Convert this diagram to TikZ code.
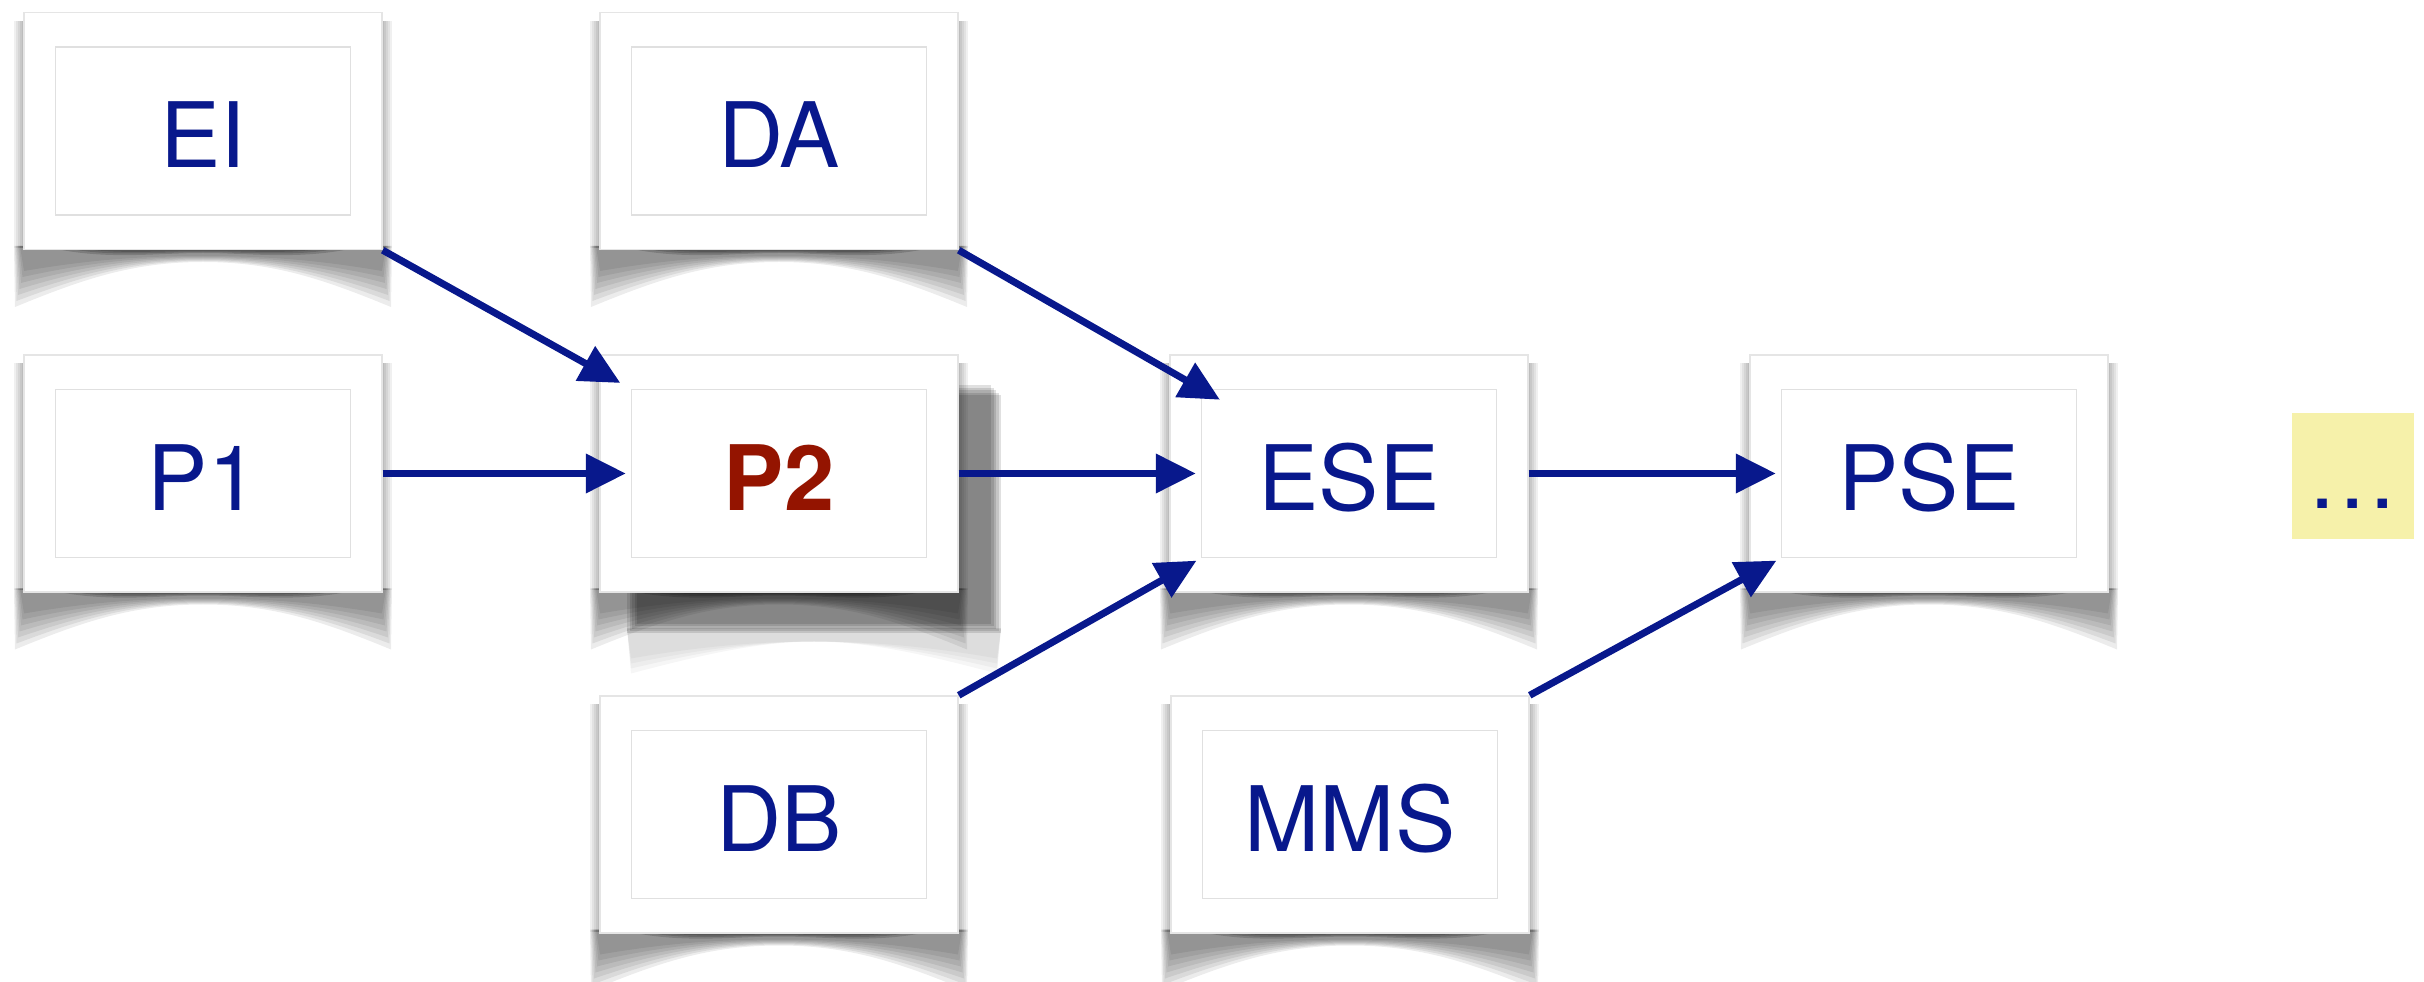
\documentclass[tikz,border=0pt]{standalone}
\usepackage{fontspec}
\setmainfont{TeX Gyre Heros}
\usetikzlibrary{arrows.meta}

\definecolor{ink}{RGB}{8,24,140}
\definecolor{hot}{RGB}{148,20,0}
\definecolor{note}{RGB}{246,241,170}

\tikzset{
  card/.style={draw=black!10, fill=white, minimum width=3.58cm,
    minimum height=2.37cm, inner sep=0pt},
  face/.style={draw=black!12, fill=white, minimum width=2.95cm,
    minimum height=1.68cm, inner sep=0pt, text=ink,
    font=\fontsize{25.7}{30}\selectfont, text height=0.74cm, text depth=0cm},
  flow/.style={draw=ink, line width=2pt, shorten >=0.5mm,
    -{Triangle[length=4mm,width=3.8mm]}},
  curl/.pic={
    \foreach \k in {1,...,5}
      \fill[black,opacity=.06] (-1.79-0.02*\k,-1.17) rectangle (1.79+0.02*\k,1.1);
    \foreach \k in {0,...,6}
      \fill[black,opacity=.075] (-1.89+0.01*\k,-1.15) -- (1.89-0.01*\k,-1.15)
        -- (1.88-0.015*\k,-1.76+0.06*\k)
        .. controls (1.2,-1.48+0.03*\k) and (0.7,-1.31+0.01*\k) .. (0,-1.31+0.01*\k)
        .. controls (-0.7,-1.31+0.01*\k) and (-1.2,-1.48+0.03*\k)
        .. (-1.88+0.015*\k,-1.76+0.06*\k) -- cycle;
    \foreach \k in {0,1,2}
      \fill[black,opacity=.16] (-1.6+0.15*\k,-1.15) -- (1.6-0.15*\k,-1.15)
        .. controls (1.0,-1.3+0.03*\k) and (0.5,-1.22+0.01*\k) .. (0,-1.22+0.01*\k)
        .. controls (-0.5,-1.22+0.01*\k) and (-1.0,-1.3+0.03*\k) .. (-1.6+0.15*\k,-1.15) -- cycle;
  },
  lift/.pic={
    \foreach \k in {0,...,4}
      \fill[black,opacity=.12] (-1.52+0.025*\k,-1.6+0.025*\k) rectangle (2.22-0.025*\k,0.78+0.025*\k);
    \foreach \k in {0,...,3}
      \fill[black,opacity=.035] (-1.52,-1.55) -- (2.22,-1.55) -- (2.18,-2.0+0.05*\k)
        .. controls (1.5,-1.82+0.03*\k) and (0.9,-1.68) .. (0.35,-1.68)
        .. controls (-0.2,-1.68) and (-0.8,-1.82+0.03*\k) .. (-1.48,-2.0+0.05*\k) -- cycle;
  }
}

\begin{document}
\begin{tikzpicture}
  \useasboundingbox (0,0) rectangle (24.24,-9.82);

  \pic at (7.79,-4.735) {lift};
  \pic at (2.03,-1.31) {curl};
  \pic at (7.79,-1.31) {curl};
  \pic at (2.03,-4.735) {curl};
  \pic at (7.79,-4.735) {curl};
  \pic at (13.49,-4.735) {curl};
  \pic at (19.29,-4.735) {curl};
  \pic at (7.79,-8.145) {curl};
  \pic at (13.50,-8.145) {curl};

  \node[card] (ei) at (2.03,-1.31) {};
  \node[card] (da) at (7.79,-1.31) {};
  \node[card] (p1) at (2.03,-4.735) {};
  \node[card] (p2) at (7.79,-4.735) {};
  \node[card] (ese) at (13.49,-4.735) {};
  \node[card] (pse) at (19.29,-4.735) {};
  \node[card] (db) at (7.79,-8.145) {};
  \node[card] (mms) at (13.50,-8.145) {};

  \node[face] (ei-in) at (ei) {EI};
  \node[face] (da-in) at (da) {DA};
  \node[face] (p1-in) at (p1) {P1};
  \node[face, text=hot, font=\fontsize{25.7}{30}\selectfont\bfseries] (p2-in) at (p2) {P2};
  \node[face] (ese-in) at (ese) {ESE};
  \node[face] (pse-in) at (pse) {PSE};
  \node[face] (db-in) at (db) {DB};
  \node[face] (mms-in) at (mms) {MMS};

  \node[fill=note, minimum width=1.22cm, minimum height=1.26cm, inner sep=0pt,
    text=ink, font=\fontsize{25.7}{30}\selectfont, text height=0.66cm,
    text depth=0cm] (more) at (23.53,-4.76) {…};

  \draw[flow, shorten >=1.2mm] (ei.south east) -- (p2-in.north west);
  \draw[flow] (p1.east) -- (p2-in.west);
  \draw[flow] (p2.east) -- (ese-in.west);
  \draw[flow, shorten >=-2.2mm] (da.south east) -- (ese-in.north west);
  \draw[flow] (db.north east) -- (ese-in.south west);
  \draw[flow] (ese.east) -- (pse-in.west);
  \draw[flow] (mms.north east) -- (pse-in.south west);
\end{tikzpicture}
\end{document}
